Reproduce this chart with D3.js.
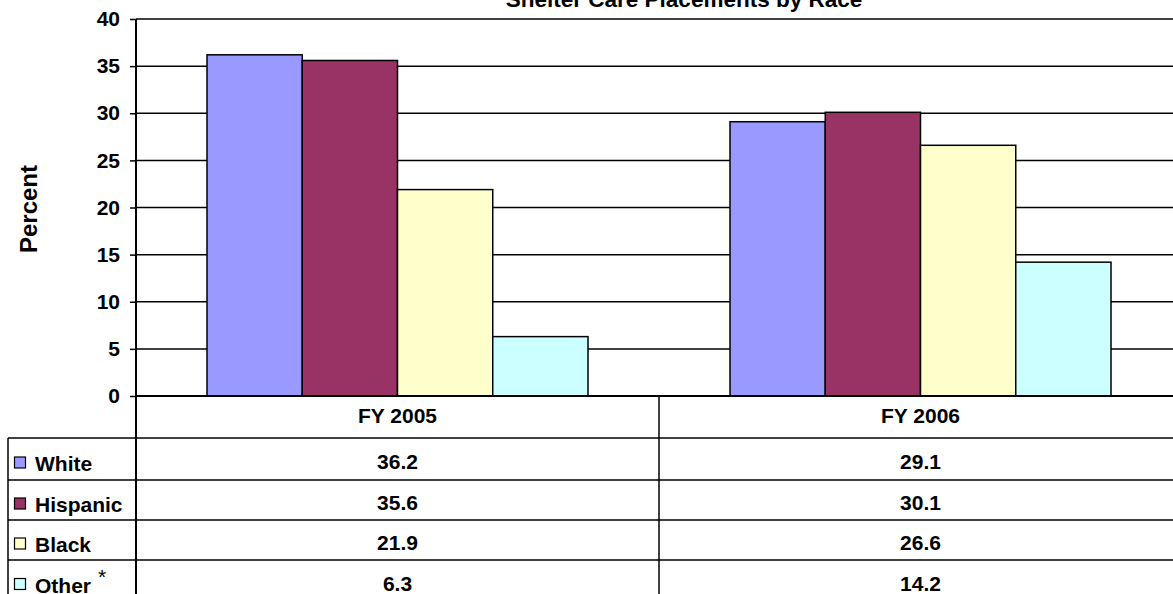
<!DOCTYPE html>
<html>
<head>
<meta charset="utf-8">
<script src="https://cdn.jsdelivr.net/npm/d3@7"></script>
<style>
  html, body { margin: 0; padding: 0; background: #fff; overflow: hidden; }
  svg { display: block; font-family: "Liberation Sans", Arial, sans-serif; font-weight: bold; }
</style>
</head>
<body>
<svg id="chart" width="1173" height="594"></svg>
<script>
// Fiscal years shown on the category axis
const years = ["FY 2005", "FY 2006"];
// Race groups (series)
const races = ["White", "Hispanic", "Black", "Other"];
// Percent of shelter care placements, per race, per year
const white    = [36.2, 29.1];
const hispanic = [35.6, 30.1];
const black    = [21.9, 26.6];
const other    = [6.3, 14.2];
const yTicks = [0, 5, 10, 15, 20, 25, 30, 35, 40];
const colors = ["#9999FF", "#993366", "#FFFFCC", "#CCFFFF"];
const seriesValues = [white, hispanic, black, other];

const svg = d3.select("#chart");

const plotLeft = 136, plotRight = 1182, plotTop = 19, plotBottom = 396;
const rowTops = [438, 480, 520, 560, 601];
const tableLeft = 8;

const y = d3.scaleLinear().domain([0, 40]).range([plotBottom, plotTop]);
const x0 = d3.scaleBand().domain(years).range([plotLeft, plotRight]);
const gap = 71;
const x1 = d3.scaleBand().domain(races).range([gap, x0.bandwidth() - gap]);

// Title
svg.append("text")
  .attr("x", 684).attr("y", 7)
  .attr("text-anchor", "middle")
  .attr("font-size", 22.5)
  .text("Shelter Care Placements by Race");

// Gridlines
svg.append("g")
  .selectAll("line")
  .data(yTicks.filter(d => d > 0))
  .join("line")
  .attr("x1", plotLeft).attr("x2", plotRight)
  .attr("y1", d => y(d)).attr("y2", d => y(d))
  .attr("stroke", "#000").attr("stroke-width", 1.5);

// Bars
const groups = svg.append("g")
  .selectAll("g")
  .data(years)
  .join("g")
  .attr("transform", d => `translate(${x0(d)},0)`);

groups.selectAll("rect")
  .data((yr, i) => races.map((r, k) => ({ race: r, value: seriesValues[k][i], color: colors[k] })))
  .join("rect")
  .attr("x", d => x1(d.race))
  .attr("width", x1.bandwidth())
  .attr("y", d => y(d.value))
  .attr("height", d => y(0) - y(d.value))
  .attr("fill", d => d.color)
  .attr("stroke", "#000")
  .attr("stroke-width", 1.5);

// Y axis
const yAxis = d3.axisLeft(y).tickValues(yTicks).tickSize(6).tickPadding(10);
const ga = svg.append("g")
  .attr("transform", `translate(${plotLeft},0)`)
  .call(yAxis);
ga.select(".domain").remove();
ga.selectAll(".tick line").attr("stroke", "#000").attr("stroke-width", 1.5);
ga.selectAll(".tick text")
  .attr("font-size", 21)
  .attr("font-family", "Liberation Sans, Arial, sans-serif")
  .attr("font-weight", "bold")
  .attr("fill", "#000");

// Axis lines
svg.append("line")
  .attr("x1", plotLeft).attr("x2", plotLeft)
  .attr("y1", plotTop).attr("y2", 594)
  .attr("stroke", "#000").attr("stroke-width", 2);
svg.append("line")
  .attr("x1", plotLeft).attr("x2", plotRight)
  .attr("y1", plotBottom).attr("y2", plotBottom)
  .attr("stroke", "#000").attr("stroke-width", 2);

// Y axis title
svg.append("text")
  .attr("transform", "translate(37,209) rotate(-90)")
  .attr("text-anchor", "middle")
  .attr("font-size", 24)
  .text("Percent");

// Data table: grid lines
const table = svg.append("g");
rowTops.slice(0, 4).forEach(t => {
  table.append("line")
    .attr("x1", tableLeft).attr("x2", plotRight)
    .attr("y1", t).attr("y2", t)
    .attr("stroke", "#000").attr("stroke-width", 1.5);
});
table.append("line")
  .attr("x1", tableLeft).attr("x2", tableLeft)
  .attr("y1", rowTops[0]).attr("y2", 594)
  .attr("stroke", "#000").attr("stroke-width", 1.5);
table.append("line")
  .attr("x1", x0(years[1])).attr("x2", x0(years[1]))
  .attr("y1", plotBottom).attr("y2", 594)
  .attr("stroke", "#000").attr("stroke-width", 1.5);

// Header row: year labels
table.selectAll("text.year")
  .data(years)
  .join("text")
  .attr("class", "year")
  .attr("x", d => x0(d) + x0.bandwidth() / 2)
  .attr("y", 423)
  .attr("text-anchor", "middle")
  .attr("font-size", 21)
  .text(d => d);

// Legend rows with values
races.forEach((r, k) => {
  const cy = (rowTops[k] + rowTops[k + 1]) / 2;
  table.append("rect")
    .attr("x", 14.5).attr("y", cy - 2)
    .attr("width", 11).attr("height", 11)
    .attr("fill", colors[k])
    .attr("stroke", "#000").attr("stroke-width", 1.2);
  table.append("text")
    .attr("x", 35).attr("y", cy + 12)
    .attr("font-size", 21)
    .text(r);
  if (r === "Other") {
    table.append("text")
      .attr("x", 98).attr("y", cy + 3)
      .attr("font-size", 21)
      .attr("font-weight", "normal")
      .text("*");
  }
  years.forEach((yr, i) => {
    table.append("text")
      .attr("x", x0(yr) + x0.bandwidth() / 2)
      .attr("y", cy + 10)
      .attr("text-anchor", "middle")
      .attr("font-size", 21)
      .text(seriesValues[k][i].toFixed(1));
  });
});
</script>
</body>
</html>
